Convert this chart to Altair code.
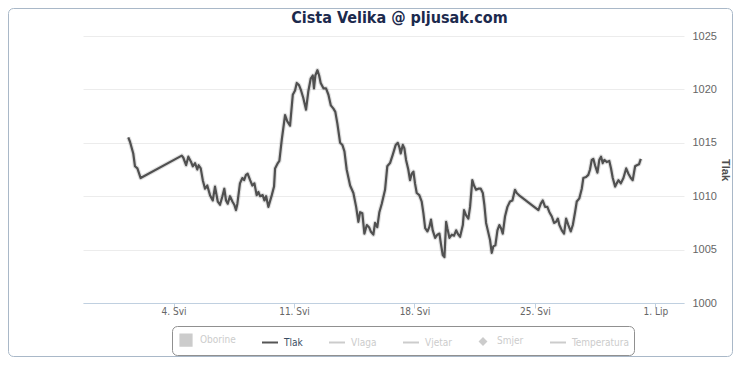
import altair as alt
import pandas as pd

# day of May (32 = 1 June), fractional
dan = [1.37,1.47,1.66,1.76,1.90,2.09,4.48,4.57,4.73,4.86,5.02,5.12,5.25,5.38,5.46,5.58,
       5.70,5.83,5.96,6.12,6.28,6.41,6.57,6.70,6.84,6.95,7.05,7.15,7.28,7.42,7.53,7.63,7.71,7.86,8.00,8.10,
       8.21,8.31,8.45,8.58,8.70,8.83,8.93,9.03,9.18,9.28,9.38,9.51,
       9.71,9.84,9.90,10.06,10.15,10.29,10.48,10.61,10.77,10.93,11.06,11.16,11.29,11.41,11.54,11.70,11.83,11.97,12.09,12.16,
       12.24,12.36,12.46,12.55,12.71,12.86,13.00,13.14,13.29,13.40,13.52,13.68,13.81,13.93,14.06,14.26,14.45,14.61,14.74,14.84,
       14.97,15.09,15.23,15.36,15.46,15.61,15.71,15.84,15.96,16.10,16.29,16.42,16.58,16.74,16.91,17.03,17.12,
       17.20,17.32,17.41,17.51,17.64,17.74,17.84,17.94,18.03,18.13,18.28,18.42,18.52,18.62,18.75,18.86,18.96,19.06,19.20,19.33,
       19.45,19.53,19.64,19.74,19.84,19.91,20.03,20.17,20.30,20.42,20.55,20.65,20.81,20.88,21.00,21.13,21.23,21.36,21.46,21.58,
       21.71,21.85,21.97,22.06,22.16,22.26,22.39,22.49,22.58,22.70,22.82,22.93,23.03,23.13,23.26,23.40,23.55,23.69,23.84,23.94,24.14,
       25.20,25.34,25.45,25.59,25.72,25.84,25.98,26.11,26.23,26.33,26.42,26.56,26.69,26.81,26.94,27.08,27.20,27.33,27.43,27.58,
       27.72,27.81,27.97,28.10,28.20,28.30,28.39,28.49,28.63,28.74,28.84,28.94,29.03,29.17,29.32,29.42,29.52,29.66,29.75,29.85,
       29.99,30.14,30.30,30.43,30.57,30.68,30.82,30.92,31.05,31.15]

tlak = [1015.5,1015.1,1014.0,1012.8,1012.6,1011.7,1013.8,1013.6,1012.9,1013.7,1013.2,1012.8,1013.1,1012.5,1012.9,1012.6,
        1011.5,1010.7,1011.0,1010.1,1009.6,1010.9,1009.5,1009.2,1010.0,1010.7,1009.6,1009.3,1010.0,1009.5,1009.2,1008.7,1009.3,1011.2,1011.7,1011.5,
        1012.0,1012.1,1011.5,1011.0,1011.2,1010.1,1010.4,1010.0,1010.1,1009.6,1010.0,1009.0,
        1010.1,1010.9,1012.6,1013.1,1013.3,1015.3,1017.6,1017.0,1016.6,1019.5,1019.9,1020.6,1020.4,1019.9,1019.2,1018.1,1019.8,1021.0,1021.3,1020.1,
        1021.3,1021.8,1021.3,1020.6,1020.1,1020.1,1019.5,1018.5,1018.2,1017.9,1016.8,1015.0,1014.8,1014.2,1012.5,1011.0,1010.3,1009.0,1007.6,1008.5,
        1008.4,1006.5,1007.3,1007.1,1006.7,1006.4,1007.5,1007.1,1008.5,1009.3,1010.6,1012.8,1013.1,1013.9,1014.8,1015.0,1014.6,
        1014.0,1014.8,1014.5,1013.4,1012.5,1011.5,1012.1,1012.3,1011.2,1010.3,1010.1,1009.5,1008.4,1007.0,1006.7,1007.1,1007.8,1006.8,1006.1,1006.4,
        1006.5,1005.6,1004.5,1004.3,1007.6,1007.0,1006.1,1006.4,1006.3,1006.8,1006.4,1006.2,1007.3,1008.7,1008.2,1007.9,1009.0,1011.5,1011.0,1010.6,
        1010.7,1010.7,1010.3,1009.2,1007.5,1006.8,1005.9,1004.7,1005.3,1005.4,1006.8,1007.3,1007.0,1006.5,1008.1,1009.0,1009.5,1009.6,1010.6,1010.3,1010.0,
        1008.7,1009.3,1009.6,1009.0,1009.0,1008.5,1008.1,1007.5,1007.6,1007.9,1007.3,1006.8,1006.5,1007.9,1007.3,1006.7,1007.3,1008.5,1009.5,1009.8,
        1010.7,1011.7,1011.8,1012.0,1012.5,1013.4,1013.5,1012.9,1012.2,1013.4,1013.7,1013.1,1013.4,1013.2,1013.3,1012.6,1011.7,1010.9,1011.2,1011.5,
        1011.2,1011.7,1012.6,1012.1,1011.7,1011.5,1012.8,1012.9,1013.0,1013.5]

serije = ["Oborine", "Tlak", "Vlaga", "Vjetar", "Smjer", "Temperatura"]
x_oznake = [4, 11, 18, 25, 32]
y_oznake = [1000, 1005, 1010, 1015, 1020, 1025]
x_raspon = [-1.26, 33.66]
y_raspon = [1000, 1025]

df = pd.DataFrame({"dan": dan, "tlak": tlak})
leg_df = pd.DataFrame({"serija": serije})

NARROW = "'Liberation Sans Narrow', 'DejaVu Sans Condensed', 'Arial Narrow', sans-serif"
REG = "'Liberation Sans', Arial, sans-serif"
TITLEF = "'DejaVu Sans Condensed', 'Liberation Sans Narrow', 'DejaVu Sans', sans-serif"

W, H = 601, 267

x_enc = alt.X(
    "dan:Q",
    scale=alt.Scale(domain=x_raspon, nice=False, zero=False),
    axis=alt.Axis(
        values=x_oznake,
        labelExpr="datum.value < 32 ? datum.value + '. Svi' : (datum.value - 31) + '. Lip'",
        title=None, grid=False, domainColor="#C0D0E0", tickColor="#C0D0E0", tickSize=5,
        labelFont=NARROW, labelFontSize=10, labelColor="#666666", labelPadding=-2,
        labelFlush=False, labelOverlap=False,
    ),
)
y_enc = alt.Y(
    "tlak:Q",
    scale=alt.Scale(domain=y_raspon, nice=False, zero=False),
    axis=alt.Axis(
        orient="right", values=y_oznake, title="Tlak", grid=True, gridColor="#ececec",
        domain=False, ticks=False, labelPadding=8, labelFont=REG, labelFontSize=11,
        labelColor="#666666", labelAlign="left", labelBaseline="middle", labelFlush=False,
        titleAngle=90, titleX=40, titleY=133.5, titleAlign="center", titleBaseline="middle",
        titleFont=REG, titleFontSize=11, titleFontWeight="bold", titleColor="#4d4d4d",
        format="d",
    ),
)

shadow = alt.Chart(df).mark_line(color="#000000", strokeWidth=4.5, opacity=0.12,
                                  strokeJoin="round").encode(x=x_enc, y=y_enc)
line = alt.Chart(df).mark_line(color="#505050", strokeWidth=2.2,
                               strokeJoin="round").encode(x=x_enc, y=y_enc)

sq = "M-0.7,-0.7H0.7V0.7H-0.7Z"
dia = "M0,-0.38L0.38,0L0,0.38L-0.38,0Z"
leg = alt.Legend(
    title=None, orient="none", legendX=89, legendY=290, direction="horizontal",
    strokeColor="#909090", cornerRadius=5, padding=5, fillColor="white",
    columnPadding=22, labelOffset=5, symbolSize=256, symbolStrokeWidth=2,
    symbolOpacity=1, labelFont=NARROW, labelFontSize=10,
    labelColor=alt.ExprRef("datum.value == 'Tlak' ? '#3a4d63' : '#cccccc'"),
)
legend_layer = alt.Chart(leg_df).mark_point(opacity=0).encode(
    fill=alt.Fill("serija:N", scale=alt.Scale(domain=serije,
        range=["#cccccc", "transparent", "transparent", "transparent", "#cccccc", "transparent"]), legend=leg),
    stroke=alt.Stroke("serija:N", scale=alt.Scale(domain=serije,
        range=["#cccccc", "#555555", "#cccccc", "#cccccc", "#cccccc", "#cccccc"]), legend=leg),
    shape=alt.Shape("serija:N", scale=alt.Scale(domain=serije,
        range=[sq, "stroke", "stroke", "stroke", dia, "stroke"]), legend=leg),
)

frame = alt.Chart(pd.DataFrame({"k": [0]})).mark_rect(
    fill="transparent", stroke="#a9b8c8", strokeWidth=1, cornerRadius=5
).encode(x=alt.value(-74.5), x2=alt.value(W + 48.5), y=alt.value(-27.5), y2=alt.value(H + 53.5))

chart = alt.layer(frame, shadow, line, legend_layer).properties(
    width=W, height=H,
    title=alt.Title("Cista Velika @ pljusak.com", font=TITLEF, fontSize=16, fontWeight="bold",
                    color="#1c2a4d", anchor="middle", dx=16, offset=-31, baseline="alphabetic"),
    autosize=alt.AutoSizeParams(type="none"),
    padding={"left": 75, "top": 28, "right": 49, "bottom": 54},
).configure(background="white").configure_view(stroke=None)

chart.save("out.html", embed_options={"renderer": "svg", "actions": False})
